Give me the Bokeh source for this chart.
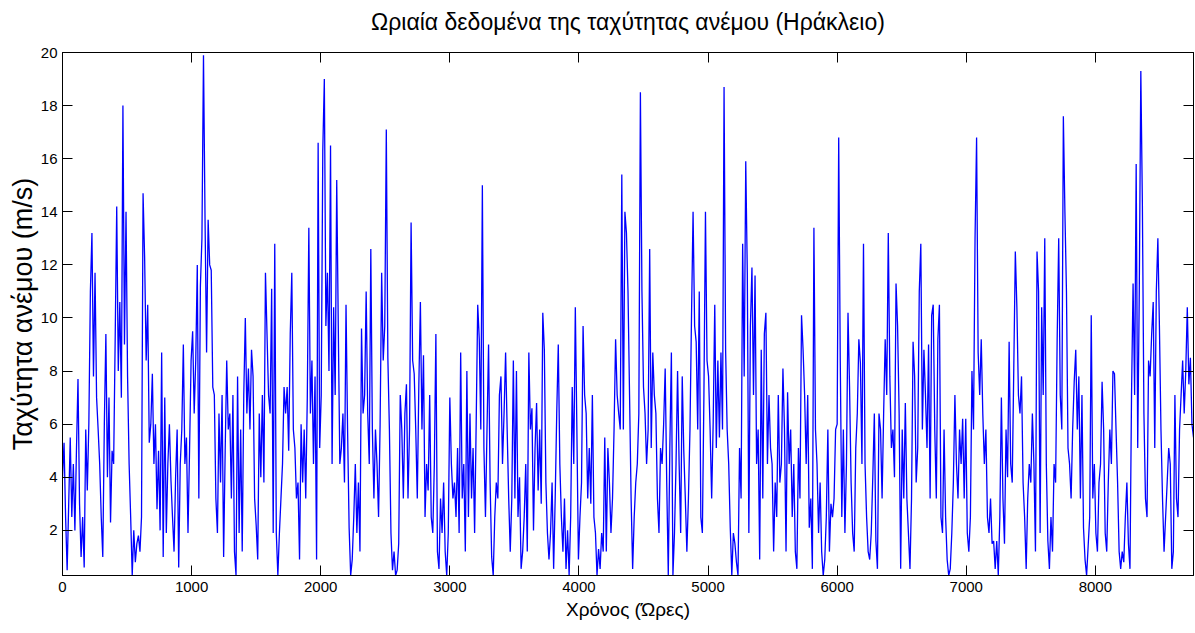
from bokeh.plotting import figure
from bokeh.models import Range1d, LinearAxis, FixedTicker
from bokeh.embed import file_html
from bokeh.resources import INLINE
import numpy as np

# Wind speed at Heraklion (m/s), one reading every 12 hours over the year
wind_speed = [
    4, 5.3, 2.5, 0.5, 3, 5.5, 2.5, 4.5, 2, 5,
    7.7, 3, 1, 2.5, 0.6, 5.8, 3.5, 6, 11, 13.2,
    7.8, 11.7, 7, 5.8, 4.5, 2.5, 1, 6, 9.4, 4,
    7, 2.3, 5, 4.5, 9.2, 14.2, 8, 10.6, 7, 18,
    9, 14, 7.8, 4.5, 2.5, 0.3, 2, 0.8, 1.5, 1.8,
    1.2, 2.5, 14.7, 12.3, 8.4, 10.5, 5.3, 6, 7.9, 4.5,
    6, 2.8, 5, 2, 8.7, 1, 7, 1.9, 4.5, 6,
    3.9, 2.5, 1.2, 4, 5.8, 0.6, 4.5, 5.8, 9, 4.5,
    5.5, 1.9, 5, 8.4, 9.5, 6.4, 8.4, 12, 3.2, 11.2,
    13, 19.9, 13.7, 8.7, 13.7, 12, 11.8, 7.4, 7.1, 3.2,
    1.9, 6.4, 3.8, 7.1, 1, 5, 8.4, 5.8, 6.4, 3.2,
    7.1, 1.2, 0.3, 7.8, 1.9, 5.8, 1.2, 7.1, 10, 6.4,
    8.1, 5.8, 8.8, 7.8, 3.2, 2.2, 0.9, 6.4, 4, 7.1,
    3.8, 11.7, 9.4, 7.1, 6.4, 11.1, 1.9, 12.8, 1.9, 0.3,
    1.9, 3.2, 4.5, 7.4, 6.4, 7.4, 5, 9.4, 11.7, 5.8,
    5.1, 3.2, 3.8, 0.9, 6, 3.8, 5.8, 3.2, 7, 13.4,
    6.4, 8.4, 4.5, 7.8, 0.9, 16.6, 5.1, 7.1, 16.3, 19,
    9.7, 11.7, 8, 16.5, 4.5, 10.4, 7.1, 15.2, 9.7, 4.5,
    5.1, 6.4, 3.8, 10.5, 5.8, 2.1, 0.3, 0.9, 2.5, 4.5,
    1.9, 3.8, 1.2, 9.6, 6.4, 7.1, 11, 6.4, 4.5, 12.6,
    5.8, 3.2, 5.8, 4.5, 2.5, 6, 11.7, 8.4, 9.7, 17.1,
    8.5, 5.8, 1.9, 0.5, 1.2, 0.3, 0.5, 1.5, 7.1, 5.8,
    3.2, 6.4, 7.5, 3.2, 5.8, 13.6, 8.4, 7.9, 5.8, 3.2,
    7.5, 10.6, 5.8, 8.6, 2.5, 4.5, 3.5, 7.1, 2.5, 1.9,
    4.5, 9.4, 1.2, 0.55, 3.2, 1.9, 3.8, 1.2, 0.3, 1.9,
    7, 4.5, 3.2, 3.8, 2.5, 5.1, 1.9, 8.7, 3.2, 4.5,
    1.2, 8, 2.5, 6.4, 3.2, 5.1, 1.9, 6, 10.5, 9.2,
    5.8, 15, 5.1, 2.5, 5.8, 9, 3.8, 1, 0.3, 2.5,
    3.8, 3.2, 7.1, 7.8, 4.5, 6.4, 8.7, 5.8, 3.2, 1.2,
    3.2, 8.4, 3.2, 8, 2.5, 4, 0.55, 1.2, 2.5, 4.5,
    1.2, 8.7, 5.8, 6.6, 2, 5.1, 6.8, 3.5, 5.8, 3,
    10.2, 8.8, 3.8, 1.9, 0.9, 1.9, 3.8, 0.55, 3.2, 6.4,
    9, 4.5, 2.5, 1.2, 3.2, 0.55, 2, 0.3, 2.5, 7.4,
    4.5, 10.4, 5.8, 0.9, 2.5, 3.8, 9.7, 7.1, 6.4, 3.2,
    5.1, 3, 7.1, 2.5, 1.9, 0.3, 1.3, 0.55, 1.9, 1.2,
    5.5, 1.2, 5.1, 3.8, 1.9, 3.2, 5.8, 9.2, 7.1, 6.4,
    5.8, 15.4, 5.8, 14, 13.2, 11, 7.1, 3.2, 0.55, 2.5,
    3.8, 4.5, 6.4, 18.5, 11, 7.4, 6.4, 4.5, 5.8, 12.6,
    5.1, 8.7, 7.1, 6.4, 3.2, 1.9, 5.1, 4.5, 6, 8.1,
    3.8, 0.3, 5.1, 8.7, 0.3, 1.9, 4.5, 8, 4.5, 1.9,
    7.8, 5, 3.2, 1.2, 3.2, 5.8, 10.1, 14, 9.7, 9.1,
    5.8, 11, 2.5, 1.9, 7.1, 14, 8.4, 7.8, 5.8, 3.2,
    6.1, 10.5, 5.1, 8.4, 5.5, 8.7, 5.8, 18.7, 8.8, 5.8,
    4.5, 2.1, 0.3, 1.9, 1.5, 0.8, 0.3, 5.1, 3.2, 12.8,
    7.8, 15.9, 11.7, 1.9, 9.7, 11.9, 7.1, 11.6, 4.5, 5.8,
    0.9, 8.8, 3.2, 9.4, 10.2, 4.5, 7.1, 5.1, 4.5, 1.2,
    3.8, 2.5, 7.1, 3.8, 4.5, 8.1, 5.8, 1.2, 7.2, 4.5,
    5.8, 2.5, 4.5, 1.2, 0.55, 5.1, 3.2, 10.1, 8.8, 7.1,
    4.5, 7.1, 2.1, 3.2, 0.55, 13.4, 5.8, 4.5, 1.9, 3.8,
    1.2, 0.3, 0.9, 2.5, 5.8, 1.2, 3, 2.5, 3.2, 5.8,
    6, 16.8, 8.4, 2.5, 5.8, 1.9, 4.5, 10.2, 7.4, 3.8,
    1.9, 1.2, 5.1, 6.4, 9.2, 8.3, 4.5, 12.8, 4.5, 2.5,
    1.2, 0.9, 1.9, 4, 6.4, 1.6, 0.55, 6.4, 5.8, 3.2,
    6.4, 9.2, 7.1, 13.2, 7.8, 5.1, 5.8, 4, 11.3, 9.7,
    6.4, 0.55, 5.8, 3.2, 6.8, 3.2, 1.9, 0.55, 3.2, 9.1,
    7.8, 3.8, 5.1, 11, 12.8, 5.8, 8.8, 7.1, 5.1, 9,
    3.2, 10.1, 10.5, 5.8, 3.2, 9.2, 10.5, 2.5, 1.9, 5.8,
    2.5, 0.9, 0.3, 0.55, 1.9, 3.8, 7.1, 4.5, 3.2, 5.8,
    4.5, 6.2, 3.2, 6.2, 1.9, 1.2, 2.5, 8, 5.8, 13,
    16.8, 8.7, 7.1, 9.2, 6.4, 4.5, 5.8, 2.5, 1.9, 3.2,
    1.5, 1.6, 0.55, 1.6, 0.3, 2.5, 7, 3.2, 1.5, 5.8,
    4, 9.1, 4.5, 3.8, 8.1, 12.5, 10.4, 7.1, 6.4, 7.8,
    3.8, 2.5, 0.55, 3.2, 4.5, 3.8, 6.4, 4.5, 1.2, 12.5,
    11, 1.9, 10.4, 7.1, 13, 4.5, 1.6, 0.55, 2.5, 1.2,
    4.5, 3.8, 9.2, 13, 7.1, 5.8, 17.6, 14, 11, 5.1,
    4.5, 3.2, 5.8, 7.6, 8.8, 5.8, 7.8, 3.2, 7.1, 2.1,
    0.9, 0.3, 1.4, 2.5, 10.1, 3.2, 4.5, 1.9, 1.2, 3.8,
    4.5, 7.6, 5.8, 1.9, 1.2, 3.8, 5.8, 4.5, 8, 7.9,
    5.8, 3.8, 1.2, 0.55, 1.2, 0.8, 2.5, 3.8, 1.5, 0.55,
    7.1, 11.3, 7.1, 15.8, 5.1, 11, 19.3, 14.3, 6.4, 3.2,
    2.5, 8.4, 7.8, 9.4, 10.6, 5.1, 11, 13, 9.7, 5.8,
    3.2, 1.2, 2.5, 3.8, 5.1, 4.5, 0.55, 1.2, 7.1, 3.2,
    2.5, 5.8, 7.1, 8.4, 6.4, 8, 10.4, 7.5, 8.5, 6, 5.5,
]
step_hours = 12
hours = np.arange(len(wind_speed)) * step_hours

x_ticks = [0, 1000, 2000, 3000, 4000, 5000, 6000, 7000, 8000]
y_ticks = [2, 4, 6, 8, 10, 12, 14, 16, 18, 20]

title_text = "Ωριαία δεδομένα της ταχύτητας ανέμου (Ηράκλειο)"
x_label = "Χρόνος (Ώρες)"
y_label = "Ταχύτητα ανέμου (m/s)"

FONT = "Liberation Sans"

p = figure(width=1195, height=633, output_backend="svg", toolbar_location=None,
           x_range=Range1d(0, 8760), y_range=Range1d(min(wind_speed), 20),
           min_border_left=62, min_border_right=2,
           min_border_top=52, min_border_bottom=58,
           background_fill_color="white", border_fill_color="white")

p.grid.visible = False
p.outline_line_color = "black"

p.line(hours, wind_speed, line_color="#0000ff", line_width=1.3)


def style_axis(ax, ticks, show_labels):
    ax.ticker = FixedTicker(ticks=ticks)
    ax.major_tick_in = 10
    ax.major_tick_out = 0
    ax.minor_tick_line_color = None
    ax.axis_line_color = "black"
    ax.major_tick_line_color = "black"
    ax.major_label_text_font = FONT
    if show_labels:
        ax.major_label_text_font_size = "15px"
        ax.major_label_text_color = "black"
    else:
        # tick marks only on the box's top and right sides
        ax.major_label_text_font_size = "0px"
        ax.major_label_text_color = None
        ax.major_label_standoff = 0


def style_label(ax, size, standoff):
    ax.axis_label_text_font = FONT
    ax.axis_label_text_font_style = "normal"
    ax.axis_label_text_color = "black"
    ax.axis_label_text_font_size = size
    ax.axis_label_standoff = standoff


xb = p.below[0]
yl = p.left[0]
style_axis(xb, x_ticks, True)
style_axis(yl, y_ticks, True)
xb.major_label_standoff = 6
yl.major_label_standoff = 5
xb.axis_label = x_label
yl.axis_label = y_label
style_label(xb, "19px", 4)
style_label(yl, "27px", 0)

# top side of the box: inward ticks, with the chart heading above them
xt = LinearAxis()
style_axis(xt, x_ticks, False)
xt.axis_label = title_text
style_label(xt, "23px", 18)
p.add_layout(xt, "above")

yr = LinearAxis()
style_axis(yr, y_ticks, False)
p.add_layout(yr, "right")

open("out.html", "w").write(file_html(p, INLINE))
